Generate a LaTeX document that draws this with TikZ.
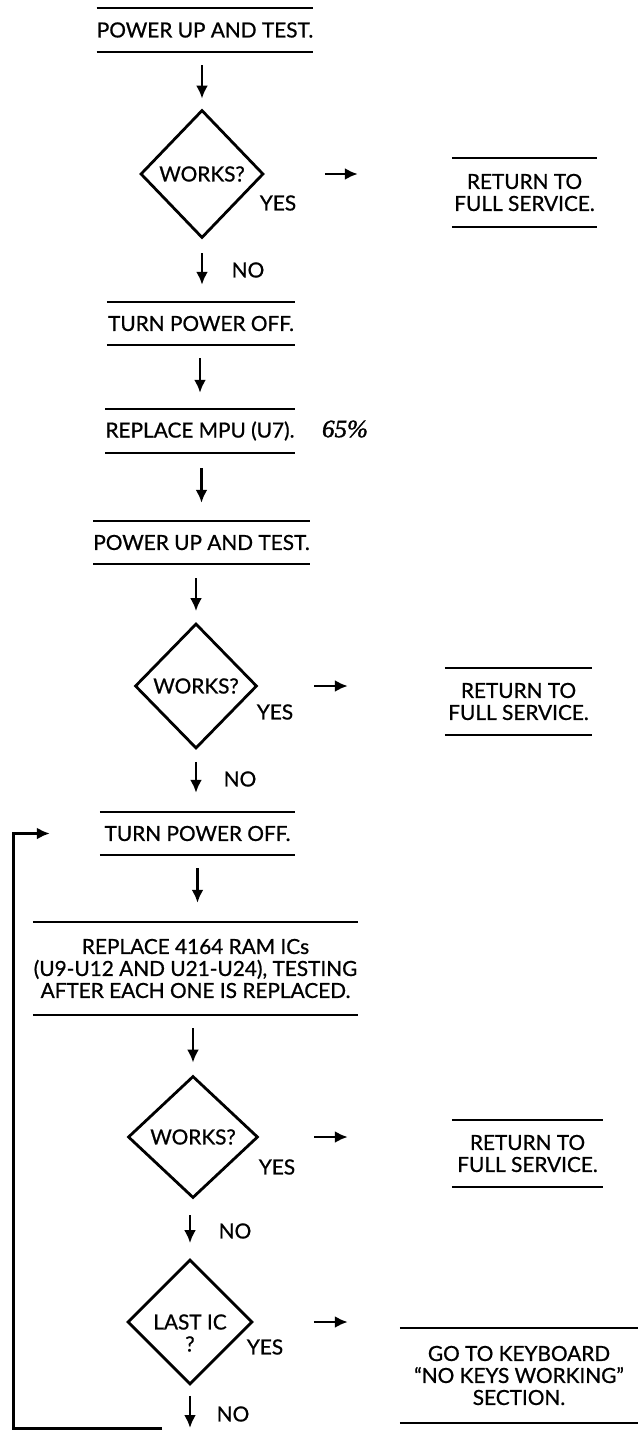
\documentclass[tikz,border=0pt]{standalone}
\usepackage{fontspec}
\setmainfont{Lato}[FakeBold=0.8]
\newfontfamily\boxfont{Lato}[FakeBold=0.8]
\newfontfamily\handfont{Liberation Serif}[FakeBold=1.5]
\usetikzlibrary{arrows.meta,shapes.geometric}
\newcommand\txtf{\boxfont\fontsize{20.8}{22}\selectfont}
\begin{document}
\begin{tikzpicture}[x=1pt,y=-1pt,
  bar/.style={rectangle, inner sep=0pt, align=center, font=\txtf},
  barline/.style={line width=2pt},
  dia/.style={diamond, draw, line width=2.8pt, inner sep=0pt, font=\txtf},
  arr/.style={line width=2.8pt, -{Latex[length=13pt,width=12pt]}},
  looparr/.style={line width=3pt, -{Latex[length=13pt,width=12pt]}},
  lbl/.style={font=\txtf, inner sep=0pt},
  hand/.style={font=\handfont\itshape\fontsize{25}{27}\selectfont, inner sep=0pt}]
\useasboundingbox (0,0) rectangle (642,1430);

% boxes
\node[bar, minimum width=210pt, minimum height=44pt] (p1) at (205,30) {POWER UP AND TEST.};
\node[dia, minimum width=123pt, minimum height=128pt] (d1) at (202,174) {WORKS?};
\node[bar, minimum width=145pt, minimum height=69pt] (r1) at (524.5,192.5) {RETURN TO\\FULL SERVICE.};
\node[bar, minimum width=188pt, minimum height=43pt] (t1) at (201,323.5) {TURN POWER OFF.};
\node[bar, minimum width=186pt, minimum height=44pt] (m1) at (200,431) {REPLACE MPU (U7).};
\node[hand] (note) at (345,429) {65\%};
\node[bar, minimum width=203pt, minimum height=43pt] (p2) at (201.5,542.5) {POWER UP AND TEST.};
\node[dia, minimum width=122pt, minimum height=125pt] (d2) at (196,686) {WORKS?};
\node[bar, minimum width=147pt, minimum height=67pt] (r2) at (518.5,701.5) {RETURN TO\\FULL SERVICE.};
\node[bar, minimum width=195pt, minimum height=43pt] (t2) at (197.5,833.5) {TURN POWER OFF.};
\node[bar, minimum width=325pt, minimum height=93pt] (ram) at (195.5,968.5) {REPLACE 4164 RAM ICs\\(U9-U12 AND U21-U24), TESTING\\AFTER EACH ONE IS REPLACED.};
\node[dia, minimum width=130pt, minimum height=122pt] (d3) at (193,1137) {WORKS?};
\node[bar, minimum width=151pt, minimum height=67pt] (r3) at (527.5,1153.5) {RETURN TO\\FULL SERVICE.};
\node[dia, minimum width=125pt, minimum height=125pt,
  label={[lbl, align=center, yshift=-11pt]center:{LAST IC\\?}}] (d4) at (190,1322) {};
\node[bar, minimum width=238pt, minimum height=95pt] (g) at (519,1375.5) {GO TO KEYBOARD\\“NO KEYS WORKING”\\SECTION.};

\foreach \n in {p1,r1,t1,m1,p2,r2,t2,ram,r3,g}
  \draw[barline] (\n.north west) -- (\n.north east) (\n.south west) -- (\n.south east);

% labels
\node[lbl] (y1) at (278,203) {YES};
\node[lbl] (n1) at (248,270) {NO};
\node[lbl] (y2) at (275,712) {YES};
\node[lbl] (n2) at (240,779) {NO};
\node[lbl] (y3) at (277,1167) {YES};
\node[lbl] (n3) at (235,1231) {NO};
\node[lbl] (y4) at (265,1347) {YES};
\node[lbl] (n4) at (233,1414) {NO};

% down arrows
\draw[arr, shorten <=13pt, shorten >=10pt] (d1.north |- p1.south) -- (d1.north);
\draw[arr, shorten <=14pt, shorten >=17pt] (d1.south) -- (d1.south |- t1.north);
\draw[arr, shorten <=13pt, shorten >=16pt] (m1.north |- t1.south) -- (m1.north);
\draw[arr, shorten <=15pt, shorten >=18pt] (p2.north |- m1.south) -- (p2.north);
\draw[arr, shorten <=14pt, shorten >=11pt] (d2.north |- p2.south) -- (d2.north);
\draw[arr, shorten <=12pt, shorten >=19pt] (d2.south) -- (d2.south |- t2.north);
\draw[arr, shorten <=13pt, shorten >=19pt] (t2.south) -- (t2.south |- ram.north);
\draw[arr, shorten <=13pt, shorten >=12pt] (d3.north |- ram.south) -- (d3.north);
\draw[arr, shorten <=16pt, shorten >=15pt] (d4.north |- d3.south) -- (d4.north);
\coordinate (bend) at (190,1428);
\draw[arr, shorten <=10pt] (d4.south) -- (bend);

% right arrows
\draw[arr, shorten <=60pt, shorten >=94pt] (d1.east) -- (d1.east -| r1.west);
\draw[arr, shorten <=56pt, shorten >=97pt] (d2.east) -- (d2.east -| r2.west);
\draw[arr, shorten <=55pt, shorten >=104pt] (d3.east) -- (d3.east -| r3.west);
\draw[arr, shorten <=60pt, shorten >=52pt] (d4.east) -- (d4.east -| g.west);

% loop back
\coordinate (lp) at (162,1428);
\coordinate (lc) at (13,1428);
\draw[looparr, shorten >=50pt] (lp) -- (lc) |- (t2.west);
\end{tikzpicture}
\end{document}
